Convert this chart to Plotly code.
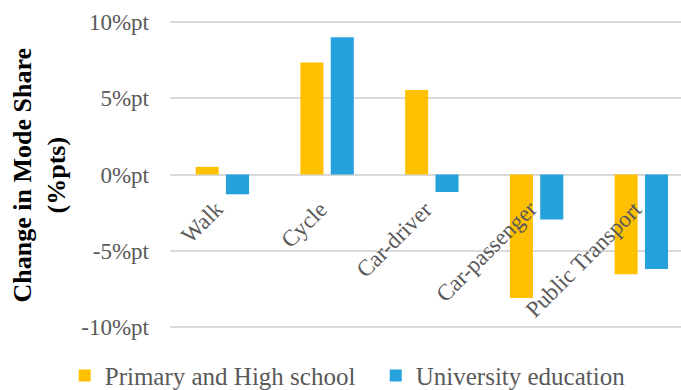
import plotly.graph_objects as go

# Travel modes (x categories)
modes = ["Walk", "Cycle", "Car-driver", "Car-passenger", "Public Transport"]

# Change in mode share, percentage points
primary_high = [0.5, 7.35, 5.55, -8.1, -6.55]
university = [-1.3, 9.0, -1.15, -2.95, -6.2]

series_names = ["Primary and High school", "University education"]
series_colors = ["#FFC000", "#25A1DB"]

# Y axis ticks
y_tickvals = [-10, -5, 0, 5, 10]
y_ticktext = ["-10%pt", "-5%pt", "0%pt", "5%pt", "10%pt"]

SERIF = "Liberation Serif, Times New Roman, serif"
GREY = "#595959"

x_pos = list(range(len(modes)))

fig = go.Figure()
fig.add_trace(go.Bar(
    x=x_pos, y=primary_high, name=series_names[0],
    marker=dict(color=series_colors[0], line=dict(width=0)),
    width=0.22, offset=-0.255,
))
fig.add_trace(go.Bar(
    x=x_pos, y=university, name=series_names[1],
    marker=dict(color=series_colors[1], line=dict(width=0)),
    width=0.22, offset=0.035,
))

# Category labels sit just under the zero line, rotated
for i, m in enumerate(modes):
    fig.add_annotation(
        x=i, y=0, xref="x", yref="y", text=m, showarrow=False,
        textangle=-45, xanchor="right", yanchor="top",
        xshift=8, yshift=-19,
        font=dict(family=SERIF, size=23, color=GREY),
    )

# Axis title, two lines, rotated
fig.add_annotation(
    xref="paper", yref="paper", x=-0.2545, y=0.5,
    text="<b>Change in Mode Share<br>(%pts)</b>", showarrow=False,
    textangle=-90, xanchor="center", yanchor="middle",
    font=dict(family=SERIF, size=26, color="#000000"),
)

fig.update_layout(
    width=681, height=390,
    margin=dict(l=170, r=0, t=19, b=60, autoexpand=False),
    paper_bgcolor="white", plot_bgcolor="white",
    barmode="overlay",
    showlegend=True,
    legend=dict(
        orientation="h", x=-0.206, y=-0.073, xanchor="left", yanchor="top",
        font=dict(family=SERIF, size=25, color=GREY),
        entrywidth=266, entrywidthmode="pixels",
        itemclick=False, bgcolor="rgba(0,0,0,0)",
    ),
    xaxis=dict(
        range=[-0.5, 4.379], showticklabels=False, showgrid=False,
        zeroline=False, showline=False, ticks="",
    ),
    yaxis=dict(
        range=[-10.2, 10.2], tickvals=y_tickvals, ticktext=y_ticktext,
        showgrid=True, gridcolor="#D9D9D9", gridwidth=1.5,
        zeroline=True, zerolinecolor="#D9D9D9", zerolinewidth=1.5,
        showline=False, ticks="", ticklabelstandoff=20,
        tickfont=dict(family=SERIF, size=23, color=GREY),
    ),
)

fig.write_html("out.html")
